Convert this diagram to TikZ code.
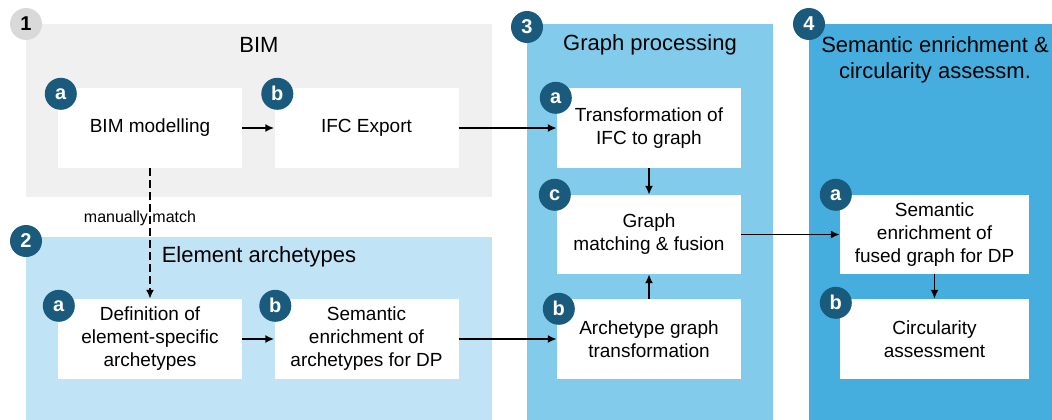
\documentclass[tikz,border=0pt]{standalone}
\usepackage{fontspec}
\setmainfont{Liberation Sans}
\usetikzlibrary{arrows.meta}
\definecolor{pgray}{HTML}{F0F0F0}
\definecolor{pblueA}{HTML}{C0E4F5}
\definecolor{pblueB}{HTML}{82CBEA}
\definecolor{pblueC}{HTML}{45AEDE}
\definecolor{bdark}{HTML}{195A7D}
\definecolor{bgray}{HTML}{D9D9D9}
\tikzset{
  box/.style={fill=white, minimum width=184pt, minimum height=80pt, inner sep=0pt, align=center, font=\fontsize{19}{23}\selectfont},
  badge/.style={circle, fill=bdark, minimum size=32pt, inner sep=0pt, text=white, font=\fontsize{20}{20}\selectfont\bfseries},
  pbadge/.style={badge, fill=bgray, text=black},
  ptitle/.style={align=center, font=\fontsize{22}{26}\selectfont},
  arr/.style={-{Latex[length=9pt,width=8pt]}, line width=1.8pt},
  darr/.style={arr, dash pattern=on 8pt off 4pt}
}
\begin{document}
\begin{tikzpicture}[x=1pt,y=-1pt]
\useasboundingbox (0,0) rectangle (1052,420);
% panels
\fill[pgray] (26,24) rectangle (492,197);
\fill[pblueA] (26,237) rectangle (492,420);
\fill[pblueB] (527,24) rectangle (773,420);
\fill[pblueC] (809,24) rectangle (1052,420);
% titles
\node[ptitle] (t1) at (259,45) {BIM};
\node[ptitle] (t2) at (259,257) {Element archetypes};
\node[ptitle] (t3) at (650,45) {Graph processing};
\node[ptitle] (t4) at (935,60) {Semantic enrichment \&\\circularity assessm.};
% boxes
\node[box] (b1a) at (150,128) {BIM modelling};
\node[box] (b1b) at (366.5,128) {IFC Export};
\node[box] (b2a) at (150,339) {Definition of\\element-specific\\archetypes};
\node[box] (b2b) at (366.5,339) {Semantic\\enrichment of\\archetypes for DP};
\node[box] (b3a) at (649,128) {Transformation of\\IFC to graph};
\node[box, minimum height=79pt] (b3c) at (649,234.5) {Graph\\matching \& fusion};
\node[box] (b3b) at (649,339) {Archetype graph\\transformation};
\node[box, minimum width=189pt, minimum height=79pt] (b4a) at (934.5,234.5) {Semantic\\enrichment of\\fused graph for DP};
\node[box, minimum width=189pt] (b4b) at (934.5,339) {Circularity\\assessment};
% panel badges
\node[pbadge] (n1) at (26,24) {1};
\node[badge] (n2) at (26,241) {2};
\node[badge] (n3) at (527,27) {3};
\node[badge] (n4) at (809,24) {4};
% box badges
\node[badge] (l1a) at ([shift={(3,6)}]b1a.north west) {a};
\node[badge] (l1b) at ([shift={(3,6)}]b1b.north west) {b};
\node[badge] (l2a) at ([shift={(1,7)}]b2a.north west) {a};
\node[badge] (l2b) at ([shift={(1,7)}]b2b.north west) {b};
\node[badge] (l3a) at ([shift={(-1,10)}]b3a.north west) {a};
\node[badge] (l3c) at ([shift={(-2,0)}]b3c.north west) {c};
\node[badge] (l3b) at ([shift={(2,10)}]b3b.north west) {b};
\node[badge] (l4a) at ([shift={(-4,0)}]b4a.north west) {a};
\node[badge] (l4b) at ([shift={(-4,4)}]b4b.north west) {b};
% connectors
\draw[arr] (b1a) -- (b1b);
\draw[arr] (b1b) -- (b1b -| b3a.west);
\draw[arr] (b2a) -- (b2b);
\draw[arr] (b2b) -- (b2b -| b3b.west);
\draw[arr] (b3a) -- (b3c);
\draw[arr] (b3b) -- (b3c);
\draw[arr] (b3c) -- (b3c -| b4a.west);
\draw[arr] (b4a) -- (b4b);
\draw[darr] (b1a.south) -- (b2a.north);
\node[font=\fontsize{16}{16}\selectfont] (mm) at (140,218) {manually match};
\end{tikzpicture}
\end{document}
